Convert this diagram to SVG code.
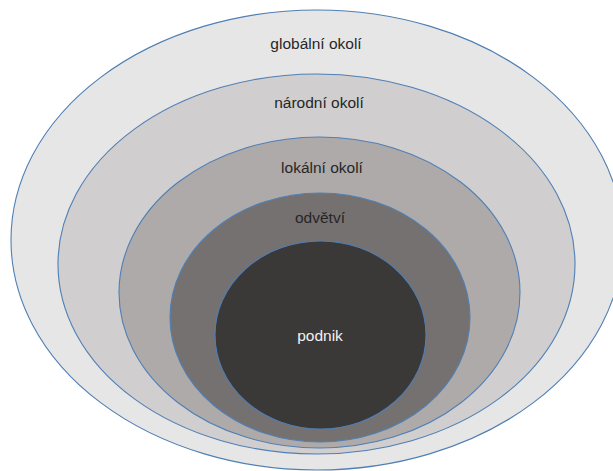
<svg xmlns="http://www.w3.org/2000/svg" width="613" height="471" viewBox="0 0 613 471">
<style>
.ring{stroke:#4f7fb5;stroke-width:1.1}
.lbl{font-family:"Liberation Sans",Arial,sans-serif;font-size:15.5px;fill:#262626;text-anchor:middle}
.inv{fill:#f2f2f2}
</style>
<rect width="613" height="471" fill="#ffffff"/>
<g id="globalni-okoli">
<ellipse class="ring" cx="317" cy="240" rx="306" ry="230" fill="#e7e6e6"/>
<text class="lbl" x="316" y="49">globální okolí</text>
</g>
<g id="narodni-okoli">
<ellipse class="ring" cx="316.5" cy="264" rx="258.5" ry="190" fill="#d0cece"/>
<text class="lbl" x="319" y="108">národní okolí</text>
</g>
<g id="lokalni-okoli">
<ellipse class="ring" cx="319.5" cy="292.5" rx="200.5" ry="155.5" fill="#aeaaaa"/>
<text class="lbl" x="322" y="173">lokální okolí</text>
</g>
<g id="odvetvi">
<ellipse class="ring" cx="320" cy="317.5" rx="150" ry="124.5" fill="#767171"/>
<text class="lbl" x="320" y="223">odvětví</text>
</g>
<g id="podnik">
<ellipse class="ring" cx="320.5" cy="335" rx="105.5" ry="94" fill="#3b3838"/>
<text class="lbl inv" x="320" y="341">podnik</text>
</g>
<g id="connectors"/>
</svg>
